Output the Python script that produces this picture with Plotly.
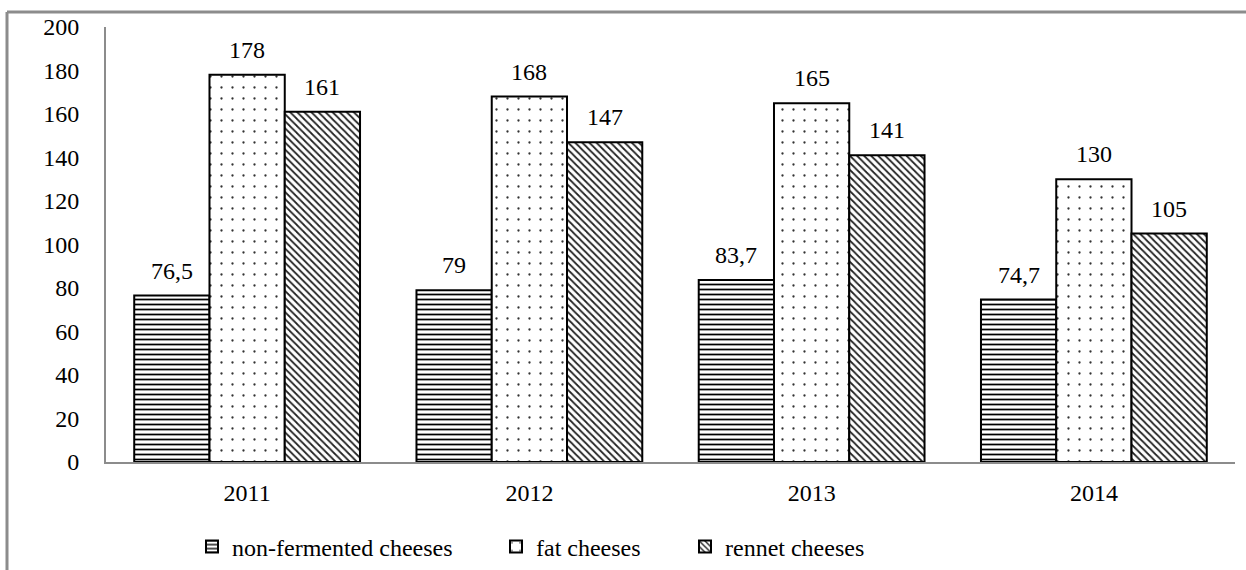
import plotly.graph_objects as go

# ---- data ----
years = ["2011", "2012", "2013", "2014"]
non_fermented = [76.5, 79, 83.7, 74.7]
fat_cheeses = [178, 168, 165, 130]
rennet_cheeses = [161, 147, 141, 105]
series_names = ["non-fermented cheeses", "fat cheeses", "rennet cheeses"]
y_ticks = [0, 20, 40, 60, 80, 100, 120, 140, 160, 180, 200]

# ---- layout geometry (pixels) ----
W, H = 1246, 570
L, R, T, B = 106, 11, 27, 108
PW, PH = W - L - R, H - T - B
FONT = "Liberation Serif"
AXIS_GRAY = "#8c8c8c"
BARGAP = 0.2


def px_x(px):
    return (px - L) / PW


def px_y(py):
    return (H - B - py) / PH


def fmt(v):
    return f"{v:g}".replace(".", ",")


patterns = [
    dict(shape="-", size=5, solidity=0.35, fgcolor="black", bgcolor="white", fillmode="replace"),
    dict(shape=".", size=11, solidity=0.035, fgcolor="#333333", bgcolor="white", fillmode="replace"),
    dict(shape="\\", size=5, solidity=0.35, fgcolor="#222222", bgcolor="white", fillmode="replace"),
]
legend_ids = ["legend", "legend2", "legend3"]
legend_text_px = [232, 536, 725]

fig = go.Figure()
all_series = [non_fermented, fat_cheeses, rennet_cheeses]
for name, vals, pat, lid in zip(series_names, all_series, patterns, legend_ids):
    fig.add_trace(go.Bar(
        x=years, y=vals, name=name, legend=lid, showlegend=True,
        marker=dict(color="white", line=dict(color="black", width=2), pattern=pat),
    ))

# value labels above bars
n = len(all_series)
bw = (1 - BARGAP) / n
annotations = []
for k, vals in enumerate(all_series):
    for i, v in enumerate(vals):
        annotations.append(dict(
            x=i + (k - (n - 1) / 2) * bw, y=v, xref="x", yref="y",
            text=fmt(v), showarrow=False, yanchor="bottom", yshift=10,
            font=dict(family=FONT, size=24, color="black"),
        ))


def legend_at(px):
    return dict(
        orientation="h", xanchor="left", yanchor="middle", y=px_y(547), x=px_x(px - 40),
        font=dict(family=FONT, size=24, color="black"),
        bgcolor="rgba(0,0,0,0)", borderwidth=0, visible=True,
    )


fig.update_layout(
    width=W, height=H, autosize=False,
    margin=dict(l=L, r=R, t=T, b=B, pad=0, autoexpand=False),
    paper_bgcolor="white", plot_bgcolor="white",
    barmode="group", bargap=BARGAP, bargroupgap=0,
    font=dict(family=FONT, size=24, color="black"),
    showlegend=True,
    xaxis=dict(
        type="category", showline=True, linecolor=AXIS_GRAY, linewidth=2,
        ticks="", showgrid=False, zeroline=False, ticklabelstandoff=8,
        tickfont=dict(family=FONT, size=24, color="black"),
    ),
    yaxis=dict(
        range=[0, 200], tickvals=y_ticks, showline=True, linecolor=AXIS_GRAY, linewidth=2,
        ticks="", showgrid=False, zeroline=False, ticklabelstandoff=20,
        tickfont=dict(family=FONT, size=24, color="black"),
    ),
    annotations=annotations,
    legend=legend_at(legend_text_px[0]),
    legend2=legend_at(legend_text_px[1]),
    legend3=legend_at(legend_text_px[2]),
    shapes=[
        dict(type="line", xref="paper", yref="paper",
             x0=px_x(7), x1=px_x(W + 20), y0=px_y(12), y1=px_y(12),
             line=dict(color=AXIS_GRAY, width=3)),
        dict(type="line", xref="paper", yref="paper",
             x0=px_x(7), x1=px_x(7), y0=px_y(12), y1=px_y(H + 20),
             line=dict(color=AXIS_GRAY, width=3)),
    ],
)

fig.write_html(
    "out.html",
    config={"displayModeBar": False},
    post_script="document.body.style.margin='0';document.body.style.overflow='hidden';",
)
